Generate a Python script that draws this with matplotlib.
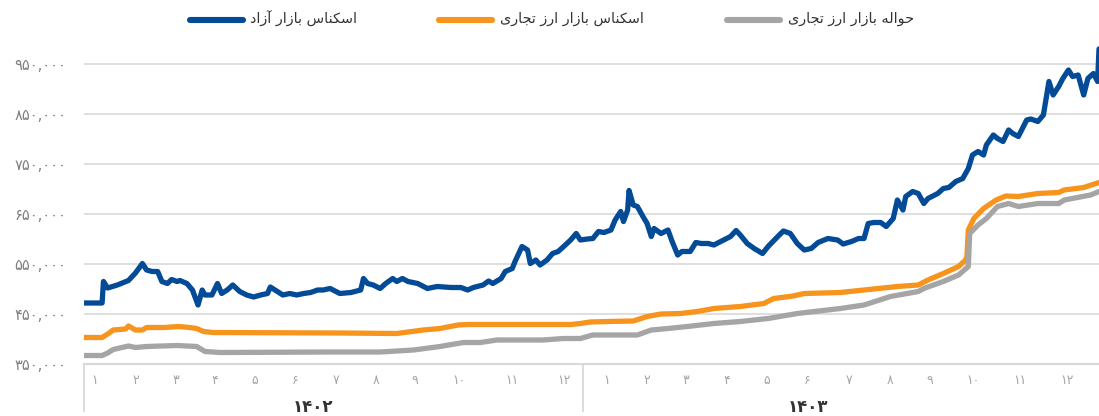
import numpy as np
import matplotlib
matplotlib.use("Agg")
import matplotlib.pyplot as plt
from matplotlib.lines import Line2D
from matplotlib.ticker import FuncFormatter
import matplotlib.transforms as mtransforms

# series: (day index from start of 1402, rial)
free_day = [0, 13, 14, 17, 24, 32, 37, 42, 45, 49, 53, 56, 60, 63, 67, 69, 74, 78, 82, 85,
            87, 92, 96, 99, 103, 107, 112, 117, 122, 127, 132, 134, 139, 143, 148, 153, 158, 163,
            168, 172, 177, 184, 192, 199, 201, 204, 208, 213, 217, 222, 225, 229, 233, 240, 247,
            254, 264, 271, 276, 280, 287, 291, 294, 300, 303, 308, 310, 315, 319, 321, 325, 328,
            333, 337, 341, 345, 350, 354, 357, 362, 366, 370, 374, 379, 382, 386, 388, 391, 392,
            395, 398, 402, 405, 408, 410, 415, 420, 423, 427, 430, 436, 440, 444, 449, 453, 460,
            465, 469, 472, 477, 482, 488, 492, 499, 503, 508, 513, 518, 523, 528, 535, 542, 546,
            552, 557, 561, 564, 568, 573, 577, 582, 585, 589, 591, 596, 600, 604, 607, 614, 618,
            622, 627, 632, 636, 639, 643, 647, 649, 654, 657, 661, 665, 668, 672, 678, 681, 686,
            690, 694, 697, 701, 704, 708, 711, 715, 719, 722, 726, 729, 730]
free_val = [472, 472, 515, 502, 508, 517, 532, 551, 538, 535, 535, 515, 511, 519, 515, 517, 511,
            498, 468, 498, 488, 488, 511, 491, 498, 508, 495, 488, 484, 488, 491, 504, 495, 488,
            491, 488, 491, 493, 498, 498, 501, 491, 493, 498, 521, 511, 508, 501, 511, 521, 515,
            521, 515, 511, 501, 505, 503, 503, 498, 503, 508, 516, 511, 521, 535, 541, 555, 585,
            578, 551, 558, 548, 558, 571, 575, 585, 598, 611, 598, 600, 601, 615, 613, 618, 638,
            655, 635, 658, 697, 668, 665, 645, 631, 605, 621, 611, 618, 595, 568, 575, 575, 593,
            591, 591, 588, 598, 605, 617, 608, 591, 581, 571, 585, 605, 616, 611, 591, 578, 581,
            593, 601, 598, 590, 595, 601, 601, 631, 633, 633, 625, 641, 678, 658, 685, 695, 691,
            671, 681, 691, 701, 703, 715, 721, 741, 768, 775, 768, 788, 808, 801, 795, 818, 811,
            805, 838, 840, 835, 848, 915, 888, 905, 921, 938, 925, 928, 888, 921, 931, 915, 980]

cash_day = [0, 13, 17, 21, 30, 32, 37, 42, 45, 58, 68, 76, 81, 86, 93, 184, 225, 244, 256, 269,
            276, 350, 357, 364, 377, 395, 405, 415, 429, 441, 453, 472, 489, 496, 510, 518, 544,
            561, 585, 600, 607, 618, 629, 634, 635, 636, 640, 647, 656, 663, 672, 686, 701, 705,
            719, 730]
cash_val = [403, 403, 410, 418, 420, 426, 418, 418, 423, 423, 425, 423, 421, 415, 413, 412, 411,
            418, 421, 428, 429, 429, 431, 434, 435, 436, 445, 450, 451, 455, 461, 465, 471, 481,
            486, 491, 493, 498, 505, 508, 518, 531, 545, 558, 565, 618, 641, 661, 678, 686, 685,
            691, 693, 698, 703, 713]

remit_day = [0, 13, 17, 21, 32, 37, 45, 67, 81, 87, 98, 177, 213, 237, 256, 273, 285, 297, 330,
             345, 357, 366, 398, 408, 420, 434, 453, 472, 492, 513, 544, 561, 580, 600, 604, 618,
             629, 636, 637, 643, 649, 657, 665, 672, 686, 701, 705, 724, 730]
remit_val = [367, 367, 372, 379, 386, 383, 385, 387, 385, 375, 373, 374, 374, 378, 385, 393, 393,
             398, 398, 401, 401, 408, 408, 418, 421, 425, 431, 435, 441, 451, 461, 468, 485, 495,
             501, 515, 528, 545, 611, 628, 641, 665, 671, 665, 671, 671, 678, 688, 695]

month_pos = [8, 37, 66, 94, 123, 152, 181, 210, 238, 270, 308, 345,
             376, 405, 433, 462, 491, 520, 550, 580, 608, 639, 673, 707]
month_lab = list(range(1, 13)) * 2
years = ["1402", "1403"]
year_pos = [165, 521]
year_edges = [0, 359]
yticks = [350000, 450000, 550000, 650000, 750000, 850000, 950000]

names = ["اسکناس بازار آزاد", "اسکناس بازار ارز تجاری", "حواله بازار ارز تجاری"]
colors = ["#034a97", "#f7941d", "#a5a5a5"]

FA = str.maketrans("0123456789", "۰۱۲۳۴۵۶۷۸۹")

FORMS = {
    'ا': ('\uFE8D', '\uFE8E', None, None),
    'آ': ('\uFE81', '\uFE82', None, None),
    'ب': ('\uFE8F', '\uFE90', '\uFE91', '\uFE92'),
    'ت': ('\uFE95', '\uFE96', '\uFE97', '\uFE98'),
    'ج': ('\uFE9D', '\uFE9E', '\uFE9F', '\uFEA0'),
    'ح': ('\uFEA1', '\uFEA2', '\uFEA3', '\uFEA4'),
    'د': ('\uFEA9', '\uFEAA', None, None),
    'ر': ('\uFEAD', '\uFEAE', None, None),
    'ز': ('\uFEAF', '\uFEB0', None, None),
    'س': ('\uFEB1', '\uFEB2', '\uFEB3', '\uFEB4'),
    'ک': ('\uFB8E', '\uFB8F', '\uFB90', '\uFB91'),
    'ل': ('\uFEDD', '\uFEDE', '\uFEDF', '\uFEE0'),
    'ن': ('\uFEE5', '\uFEE6', '\uFEE7', '\uFEE8'),
    'ه': ('\uFEE9', '\uFEEA', '\uFEEB', '\uFEEC'),
    'و': ('\uFEED', '\uFEEE', None, None),
    'ی': ('\uFBFC', '\uFBFD', '\uFBFE', '\uFBFF'),
}


def shape(s):
    # crude persian shaping + visual (reversed) order
    out = []
    for i, c in enumerate(s):
        if c not in FORMS:
            out.append(c)
            continue
        prev = s[i - 1] if i > 0 else ' '
        nxt = s[i + 1] if i + 1 < len(s) else ' '
        jp = prev in FORMS and FORMS[prev][2] is not None
        jn = FORMS[c][2] is not None and nxt in FORMS
        f = FORMS[c]
        if jp and jn:
            out.append(f[3])
        elif jp:
            out.append(f[1])
        elif jn:
            out.append(f[2])
        else:
            out.append(f[0])
    return ''.join(out)[::-1]


plt.rcParams['font.family'] = ['DejaVu Sans']

fig = plt.figure(figsize=(10.99, 4.16), dpi=100)
ax = fig.add_axes([84 / 1099, 52 / 416, 1015 / 1099, 325 / 416])

series = [(free_day, free_val), (cash_day, cash_val), (remit_day, remit_val)]
for (d, v), c in zip(series, colors):
    ax.plot(d, np.array(v) * 1000, color=c, lw=3.8, solid_joinstyle='round',
            solid_capstyle='round', zorder=3)

ax.set_xlim(0, 730)
ax.set_ylim(350000, 1000000)
ax.set_yticks(yticks)
ax.yaxis.set_major_formatter(FuncFormatter(lambda v, p: f"{int(v):,}".translate(FA)))
ax.tick_params(axis='y', length=0, pad=13, labelsize=10.5, labelcolor='#808080')
ax.set_xticks([])
ax.grid(axis='y', color='#dcdcdc', lw=1.3)
ax.set_axisbelow(True)
for s in ['top', 'right', 'left']:
    ax.spines[s].set_visible(False)
ax.spines['bottom'].set_color('#d9d9d9')
ax.spines['bottom'].set_linewidth(1.5)

tr = mtransforms.blended_transform_factory(ax.transData, ax.transAxes)
for e in year_edges:
    ax.add_line(Line2D([e, e], [0, -0.145], transform=tr, color='#d9d9d9', lw=1.3,
                       clip_on=False))
for p, m in zip(month_pos, month_lab):
    ax.text(p, -0.05, str(m).translate(FA), transform=tr, ha='center', va='center',
            fontsize=9, color='#a6a6a6')
for p, y in zip(year_pos, years):
    ax.text(p, -0.132, y.translate(FA), transform=tr, ha='center', va='center',
            fontsize=12, color='#333333', fontweight='bold')

# legend drawn by hand (right-to-left items)
leg_handle = [(190, 243), (439, 492), (727, 780)]
leg_text = [250, 500, 788]
for (x0, x1), tx, n, c in zip(leg_handle, leg_text, names, colors):
    fig.add_artist(Line2D([x0 / 1099, x1 / 1099], [396 / 416, 396 / 416], color=c, lw=4.4,
                          solid_capstyle='round'))
    fig.text(tx / 1099, 397 / 416, shape(n), ha='left', va='center', fontsize=10.4,
             color='#333333')

fig.savefig("out.png", dpi=100)
